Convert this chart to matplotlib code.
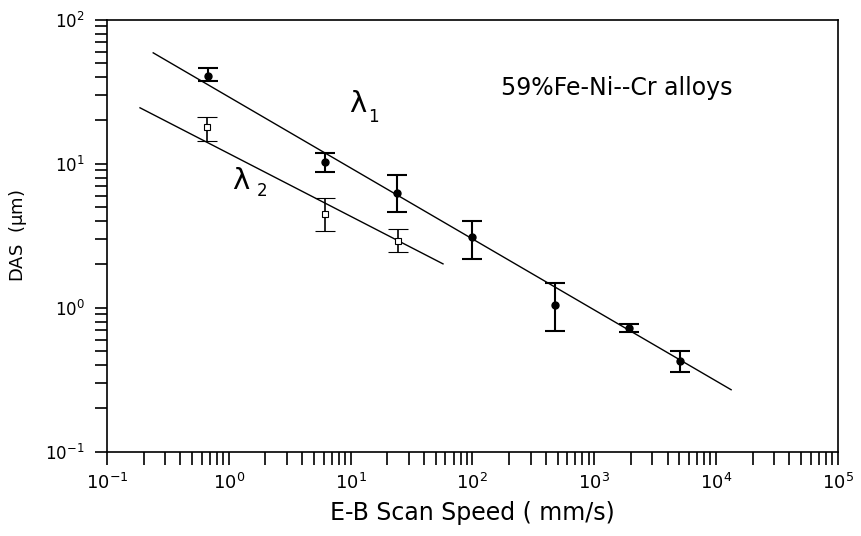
import numpy as np
import matplotlib
matplotlib.use('Agg')
import matplotlib.pyplot as plt
from matplotlib.ticker import LogLocator, NullFormatter


## Data ##
speed_1 = [0.67, 6.2, 24, 99, 476, 1930, 5060]
das_1 = [40.8, 10.3, 6.3, 3.1, 1.05, 0.73, 0.43]
das_1_hi = [46, 11.8, 8.3, 4.0, 1.49, 0.77, 0.50]
das_1_lo = [37.5, 8.8, 4.6, 2.19, 0.69, 0.68, 0.36]

speed_2 = [0.66, 6.2, 24.5]
das_2 = [18.1, 4.5, 2.92]
das_2_hi = [21.2, 5.8, 3.54]
das_2_lo = [14.5, 3.43, 2.45]

fit_1_x = [0.24, 13300]
fit_1_y = [59, 0.27]
fit_2_x = [0.187, 57.4]
fit_2_y = [24.5, 2.02]

x_ticks = [1e-1, 1e0, 1e1, 1e2, 1e3, 1e4, 1e5]
y_ticks = [1e-1, 1e0, 1e1, 1e2]


fig, ax = plt.subplots(1, 1, figsize=[8.62, 5.36], dpi=100)
fig.subplots_adjust(left=0.124, right=0.972, bottom=0.157, top=0.963)

ax.plot(fit_1_x, fit_1_y, 'k-', lw=1)
ax.plot(fit_2_x, fit_2_y, 'k-', lw=1)

err_1 = [np.array(das_1) - np.array(das_1_lo),
         np.array(das_1_hi) - np.array(das_1)]
err_2 = [np.array(das_2) - np.array(das_2_lo),
         np.array(das_2_hi) - np.array(das_2)]

ax.errorbar(speed_1, das_1, yerr=err_1, fmt='o', color='k', ms=5,
            elinewidth=1.5, capsize=7, capthick=1.5)
ax.errorbar(speed_2, das_2, yerr=err_2, fmt='s', color='k', ms=4,
            mfc='white', mew=0.8, elinewidth=1.2, capsize=7, capthick=1.2)

ax.set_xscale('log')
ax.set_yscale('log')
ax.set_xticks(x_ticks)
ax.set_yticks(y_ticks)
ax.set_xlim(1e-1, 1e5)
ax.set_ylim(1e-1, 1e2)

ax.xaxis.set_minor_locator(LogLocator(base=10, subs=np.arange(2, 10),
                                      numticks=20))
ax.xaxis.set_minor_formatter(NullFormatter())
ax.yaxis.set_minor_locator(LogLocator(base=10, subs=np.arange(2, 10),
                                      numticks=20))
ax.yaxis.set_minor_formatter(NullFormatter())
ax.tick_params(axis='both', which='both', direction='out', length=9,
               width=1.2, labelsize=13, top=False, right=False)
ax.tick_params(axis='x', which='major', pad=6)
ax.tick_params(axis='y', which='major', labelsize=12, pad=7)

for spine in ax.spines.values():
    spine.set_linewidth(1.2)

ax.set_xlabel('E-B Scan Speed ( mm/s)', fontsize=17, labelpad=6)
ax.set_ylabel(r'DAS  ($\mathregular{\mu}$m)', fontsize=13)
ax.yaxis.set_label_coords(-0.106, 0.5)

ax.text(0.697, 0.843, '59%Fe-Ni--Cr alloys', transform=ax.transAxes,
        fontsize=17, ha='center', va='center')
ax.text(0.343, 0.805, 'λ', transform=ax.transAxes,
        fontsize=21, ha='center', va='center')
ax.text(0.364, 0.776, '1', transform=ax.transAxes,
        fontsize=12, ha='center', va='center')
ax.text(0.183, 0.627, 'λ', transform=ax.transAxes,
        fontsize=21, ha='center', va='center')
ax.text(0.212, 0.604, '2', transform=ax.transAxes,
        fontsize=12, ha='center', va='center')

plt.savefig('out.png', dpi=100)
plt.close(fig)
